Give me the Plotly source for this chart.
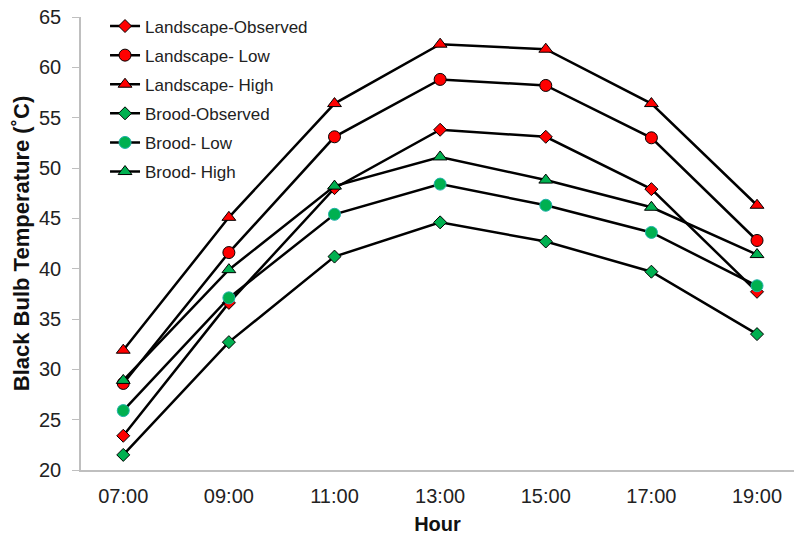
import plotly.graph_objects as go

hours = ["07:00", "09:00", "11:00", "13:00", "15:00", "17:00", "19:00"]

landscape_observed = [23.4, 36.6, 48.0, 53.8, 53.1, 47.9, 37.7]
landscape_low = [28.6, 41.6, 53.1, 58.8, 58.2, 53.0, 42.8]
landscape_high = [31.9, 45.1, 56.4, 62.3, 61.8, 56.4, 46.3]
brood_observed = [21.5, 32.7, 41.2, 44.6, 42.7, 39.7, 33.5]
brood_low = [25.9, 37.1, 45.4, 48.4, 46.3, 43.6, 38.3]
brood_high = [28.9, 39.9, 48.2, 51.1, 48.8, 46.1, 41.4]

RED = "#ff0000"
GREEN = "#00b050"

series = [
    ("Landscape-Observed", landscape_observed, "diamond", 10, RED, "black"),
    ("Landscape- Low", landscape_low, "circle", 12, RED, "black"),
    ("Landscape- High", landscape_high, "triangle-up", 12, RED, "black"),
    ("Brood-Observed", brood_observed, "diamond", 10, GREEN, "black"),
    ("Brood- Low", brood_low, "circle", 12, GREEN, "#20b2aa"),
    ("Brood- High", brood_high, "triangle-up", 12, GREEN, "black"),
]

fig = go.Figure()
for i, (name, vals, sym, size, col, outline) in enumerate(series):
    fig.add_trace(go.Scatter(
        x=hours, y=vals, name=name, mode="lines+markers",
        line=dict(color="black", width=2.5),
        marker=dict(symbol=sym, size=size, color=col,
                    line=dict(color=outline, width=1)),
        legendgroup=f"g{i}",
    ))

fig.update_layout(
    width=794, height=537,
    margin=dict(l=81, r=0, t=17, b=67),
    paper_bgcolor="white", plot_bgcolor="white",
    font=dict(family="Liberation Sans, Arial, sans-serif", color="#222222"),
    legend=dict(x=0.0337, y=1.0188, xanchor="left", yanchor="top",
                font=dict(size=17, color="#222222"),
                bgcolor="rgba(0,0,0,0)", tracegroupgap=4,
                itemwidth=30),
    xaxis=dict(
        type="category", range=[-0.4, 6.35],
        showline=True, linecolor="#bfbfbf", linewidth=1.5,
        ticks="", showgrid=False, zeroline=False,
        ticklabelstandoff=7,
        tickfont=dict(size=20, color="#222222"),
        title=dict(text="<b>Hour</b>", font=dict(size=20, color="#111111"), standoff=11),
    ),
    yaxis=dict(
        range=[20, 65], dtick=5,
        showline=True, linecolor="#bfbfbf", linewidth=1.5,
        ticks="outside", ticklen=7, tickcolor="#bfbfbf",
        ticklabelstandoff=7, ticklabeloverflow="allow",
        automargin="left",
        showgrid=False, zeroline=False,
        tickfont=dict(size=20, color="#222222"),
        title=dict(text="<b>Black Bulb Temperature (˚C)</b>", font=dict(size=22, color="#111111"), standoff=3),
    ),
)

fig.write_html("out.html", config={"displayModeBar": False},
               post_script="document.body.style.margin='0';")
